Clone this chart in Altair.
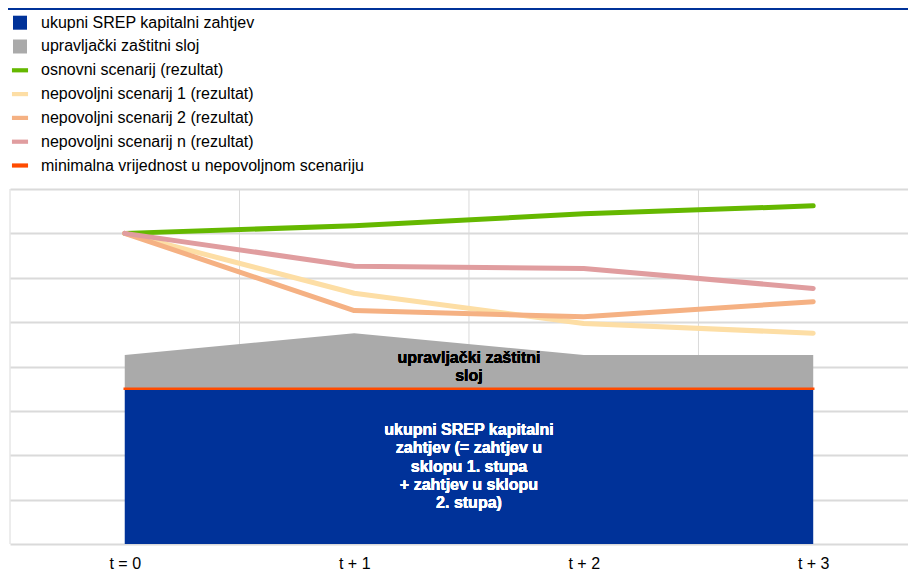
import json
import altair as alt
import pandas as pd

# ---- data ----
categories = ["t = 0", "t + 1", "t + 2", "t + 3"]
srep_requirement = [3.5, 3.5, 3.5, 3.5]
buffer_top = [4.26, 4.75, 4.26, 4.26]
baseline_result = [7.0, 7.17, 7.44, 7.62]
adverse_1 = [7.0, 5.65, 4.97, 4.75]
adverse_2 = [7.0, 5.26, 5.12, 5.46]
adverse_n = [7.0, 6.26, 6.21, 5.76]
minimum_adverse = [3.5, 3.5, 3.5, 3.5]

series_names = [
    "ukupni SREP kapitalni zahtjev",
    "upravljački zaštitni sloj",
    "osnovni scenarij (rezultat)",
    "nepovoljni scenarij 1 (rezultat)",
    "nepovoljni scenarij 2 (rezultat)",
    "nepovoljni scenarij n (rezultat)",
    "minimalna vrijednost u nepovoljnom scenariju",
]
series_colors = ["#003299", "#aaaaaa", "#65b800", "#fddea5", "#f5b183", "#e09d9f", "#ff4b00"]

buffer_label = ["upravljački zaštitni", "sloj"]
srep_label = ["ukupni SREP kapitalni", "zahtjev (= zahtjev u", "sklopu 1. stupa",
              "+ zahtjev u sklopu", "2. stupa)"]

y_gridlines = list(range(9))
x_gridlines = [-0.5, 0.5, 1.5, 2.5]

FONT = "Liberation Sans, Arial, sans-serif"

# ---- tables ----
idx = list(range(len(categories)))
area_df = pd.DataFrame({"x": idx, "srep": srep_requirement, "buf": buffer_top})
min_df = pd.DataFrame({"x": idx, "v": minimum_adverse})
line_series = series_names[2:6]
line_vals = [baseline_result, adverse_1, adverse_2, adverse_n]
lines_df = pd.DataFrame(
    [{"series": s, "x": i, "value": v}
     for s, vals in zip(line_series, line_vals) for i, v in zip(idx, vals)]
)
vgrid_df = pd.DataFrame({"gx": x_gridlines})
legend_df = pd.DataFrame({"series": series_names, "x": [0] * 7, "y": [0] * 7})

# ---- scales / axes ----
xscale = alt.Scale(domain=[-0.5, 3.413], nice=False, zero=False)
yscale = alt.Scale(domain=[0, 8], nice=False, zero=True)
label_expr = json.dumps(categories) + "[datum.value]"
xaxis = alt.Axis(values=idx, labelExpr=label_expr, grid=False, domain=False, ticks=False,
                 tickSize=0, labelPadding=11, labelFontSize=16, labelFont=FONT,
                 labelColor="#000000", title=None, labelFlush=False, labelOverlap=False)
yaxis = alt.Axis(values=y_gridlines, labels=False, ticks=False, domain=False, grid=True,
                 gridColor="#dadada", gridWidth=2, title=None)


def X(f):
    return alt.X(f, type="quantitative", scale=xscale, axis=xaxis)


def Y(f):
    return alt.Y(f, type="quantitative", scale=yscale, axis=yaxis)


vgrid = alt.Chart(vgrid_df).mark_rule(color="#dadada", strokeWidth=1).encode(
    x=X("gx"), y=alt.datum(0, scale=yscale), y2=alt.datum(8)
)

buffer_area = alt.Chart(area_df).mark_area(color=series_colors[1], opacity=1).encode(
    x=X("x"), y=Y("buf"), y2="srep"
)
srep_area = alt.Chart(area_df).mark_area(color=series_colors[0], opacity=1).encode(
    x=X("x"), y=Y("srep")
)
min_line = alt.Chart(min_df).mark_line(color=series_colors[6], strokeWidth=2.5, strokeCap="square").encode(
    x=X("x"), y=Y("v")
)
scen_lines = alt.Chart(lines_df).mark_line(strokeWidth=5, strokeCap="round", strokeJoin="round").encode(
    x=X("x"), y=Y("value"),
    stroke=alt.Stroke("series:N", scale=alt.Scale(domain=line_series, range=series_colors[2:6]),
                      legend=None),
)

buffer_text = alt.Chart(area_df).mark_text(
    text=buffer_label, font=FONT, fontSize=16, fontWeight="bold", color="#000000",
    lineHeight=18, align="center", baseline="middle"
).encode(x=alt.datum(1.5), y=alt.datum(4.19))

srep_text = alt.Chart(area_df).mark_text(
    text=srep_label, font=FONT, fontSize=16, fontWeight="bold", color="#ffffff",
    lineHeight=18.3, align="center", baseline="middle"
).encode(x=alt.datum(1.5), y=alt.datum(2.57))

line_path = "M-1.15,-0.3H1.15V0.3H-1.15Z"
legend_shapes = ["square", "square"] + [line_path] * 5
legend_props = dict(orient="none", legendX=2, legendY=-174.3, title=None,
                    direction="vertical", symbolSize=196, labelFontSize=16,
                    labelFont=FONT, labelColor="#000000", labelOffset=13,
                    rowPadding=7.8, padding=0, symbolOpacity=1,
                    symbolStrokeWidth=0, labelLimit=700)
legend_layer = alt.Chart(legend_df).mark_point(filled=True, opacity=0).encode(
    x=X("x"), y=Y("y"),
    fill=alt.Fill("series:N", scale=alt.Scale(domain=series_names, range=series_colors),
                  legend=alt.Legend(**legend_props)),
    shape=alt.Shape("series:N", scale=alt.Scale(domain=series_names, range=legend_shapes),
                    legend=alt.Legend(**legend_props)),
)

top_rule = alt.Chart(legend_df).mark_rule(color="#003299", strokeWidth=2).encode(
    x=alt.value(-2), x2=alt.value(898), y=alt.value(-180)
)

chart = alt.layer(
    vgrid, buffer_area, srep_area, min_line, scen_lines, buffer_text, srep_text,
    legend_layer, top_rule
).properties(
    width=898, height=355,
    autosize=alt.AutoSizeParams(type="none"),
    padding={"left": 2, "top": 181, "right": 0, "bottom": 30},
    background="#ffffff",
).configure_view(stroke=None)

chart.save("out.html", embed_options={"renderer": "svg", "actions": False})
